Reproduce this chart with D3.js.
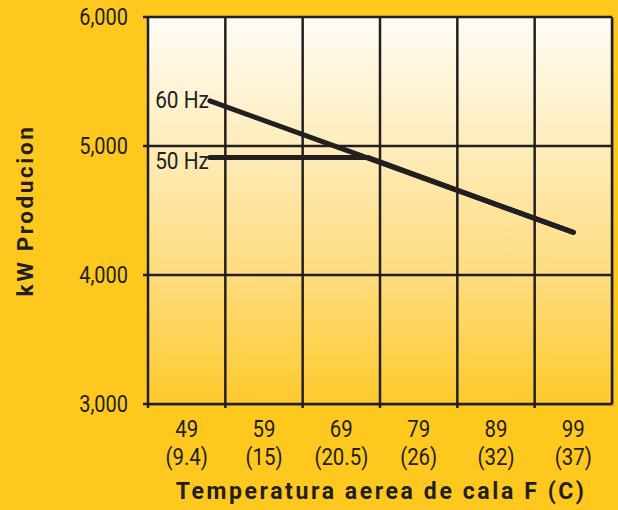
<!DOCTYPE html>
<html>
<head>
<meta charset="utf-8">
<script src="https://cdn.jsdelivr.net/npm/d3@7"></script>
<style>
  html, body { margin: 0; padding: 0; background: #ffc81e; }
  svg { display: block; }
  .num { font-family: "Roboto", "Liberation Sans", sans-serif; fill: #231f20; }
  .ttl { font-family: "Roboto", "Liberation Sans", sans-serif; font-weight: bold; fill: #231f20; }
</style>
</head>
<body>
<svg id="Target" width="618" height="510"></svg>
<script>
// values
const tempF = [49, 59, 69, 79, 89, 99];
const tempC = ["9.4", "15", "20.5", "26", "32", "37"];
const kwTicks = [3000, 4000, 5000, 6000];
const hz60 = [[52, 5350], [99, 4330]];
const hz50 = [[52, 4910], [72.5, 4910], [99, 4330]];

const [width, height] = [618, 510];
const pL = 148, pR = 612, pT = 17, pB = 404;
const ink = "#231f20";
const narrow = 0.85; // squeeze to mimic the condensed face

const x = d3.scaleLinear().domain([44, 104]).range([pL, pR]);
const y = d3.scaleLinear().domain([3000, 6000]).range([pB, pT]);

const svg = d3.select("#Target");

const defs = svg.append("defs");
const grad = defs.append("linearGradient")
    .attr("id", "bg").attr("x1", 0).attr("y1", 0).attr("x2", 0).attr("y2", 1);
grad.append("stop").attr("offset", "0%").attr("stop-color", "#fffdf7");
grad.append("stop").attr("offset", "35%").attr("stop-color", "#feebb8");
grad.append("stop").attr("offset", "68%").attr("stop-color", "#fedb7c");
grad.append("stop").attr("offset", "100%").attr("stop-color", "#ffca2c");

// shadow + plot area
svg.append("rect")
    .attr("x", pL + 2).attr("y", pT + 2)
    .attr("width", pR - pL).attr("height", pB - pT)
    .attr("fill", "#a78a2a").attr("opacity", 0.6);
svg.append("rect")
    .attr("x", pL).attr("y", pT)
    .attr("width", pR - pL).attr("height", pB - pT)
    .attr("fill", "url(#bg)");

// column edges for vertical grid
const edges = d3.range(44, 105, 10);

svg.append("g")
    .selectAll("line")
    .data(edges)
    .join("line")
    .attr("x1", d => x(d)).attr("x2", d => x(d))
    .attr("y1", pT).attr("y2", d => d === 104 ? pB : pB + 4)
    .attr("stroke", ink)
    .attr("stroke-width", 2.5);

svg.append("g")
    .selectAll("line")
    .data(kwTicks)
    .join("line")
    .attr("x1", pL - 5).attr("x2", pR)
    .attr("y1", d => y(d)).attr("y2", d => y(d))
    .attr("stroke", ink)
    .attr("stroke-width", 2.5);

const at = (px, py) => `translate(${px},${py}) scale(${narrow},1)`;

// y labels
svg.append("g")
    .selectAll("text")
    .data(kwTicks)
    .join("text")
    .attr("class", "num")
    .attr("transform", d => at(128, y(d) + 8))
    .attr("text-anchor", "end")
    .attr("font-size", 23.5)
    .text(d3.format(","));

// x labels
const xl = svg.append("g")
    .selectAll("g")
    .data(tempF)
    .join("g");
xl.append("text")
    .attr("class", "num")
    .attr("transform", d => at(x(d), 437))
    .attr("text-anchor", "middle")
    .attr("font-size", 24)
    .text(d => d);
xl.append("text")
    .attr("class", "num")
    .attr("transform", d => at(x(d), 465))
    .attr("text-anchor", "middle")
    .attr("font-size", 24)
    .text((d, i) => "(" + tempC[i] + ")");

// lines
const line = d3.line().x(d => x(d[0])).y(d => y(d[1]));
[hz50, hz60].forEach(s => {
    svg.append("path")
        .attr("d", line(s))
        .attr("fill", "none")
        .attr("stroke", ink)
        .attr("stroke-width", 5)
        .attr("stroke-linecap", "round")
        .attr("stroke-linejoin", "round");
});

svg.append("text")
    .attr("class", "num")
    .attr("transform", at(x(hz60[0][0]) - 1, y(hz60[0][1]) + 7))
    .attr("text-anchor", "end")
    .attr("font-size", 24.5)
    .text("60 Hz");
svg.append("text")
    .attr("class", "num")
    .attr("transform", at(x(hz50[0][0]) - 1, y(hz50[0][1]) + 11))
    .attr("text-anchor", "end")
    .attr("font-size", 24.5)
    .text("50 Hz");

// axis titles
svg.append("text")
    .attr("class", "ttl")
    .attr("x", (pL + pR) / 2 + 1).attr("y", 499)
    .attr("text-anchor", "middle")
    .attr("font-size", 23)
    .attr("letter-spacing", 2.6)
    .text("Temperatura aerea de cala F (C)");

svg.append("text")
    .attr("class", "ttl")
    .attr("transform", `translate(33,${(pT + pB) / 2}) rotate(-90)`)
    .attr("text-anchor", "middle")
    .attr("font-size", 22.5)
    .attr("letter-spacing", 2.6)
    .text("kW Producion");
</script>
</body>
</html>
